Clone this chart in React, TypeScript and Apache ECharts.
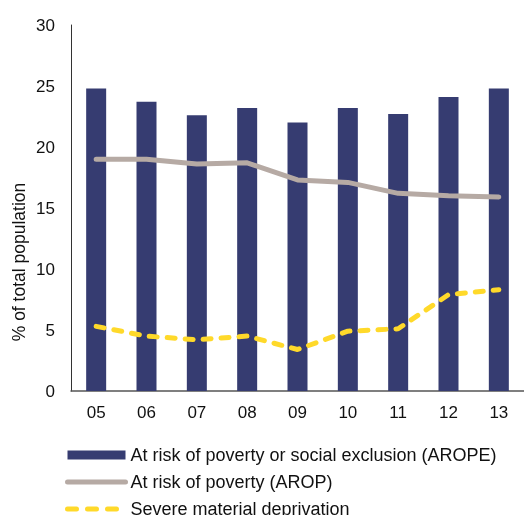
import React, { useEffect, useRef } from "react";
import * as echarts from "echarts";

const categories = ["05", "06", "07", "08", "09", "10", "11", "12", "13"];
const arope = [24.8, 23.7, 22.6, 23.2, 22.0, 23.2, 22.7, 24.1, 24.8];
const arop = [19.0, 19.0, 18.6, 18.7, 17.3, 17.1, 16.2, 16.0, 15.9];
const smd = [5.3, 4.5, 4.2, 4.5, 3.4, 4.9, 5.1, 7.9, 8.3];
const seriesNames = [
  "At risk of poverty or social exclusion (AROPE)",
  "At risk of poverty (AROP)",
  "Severe material deprivation",
];
const yAxisTitle = "% of total population";

const FONT = "'Liberation Sans', Arial, sans-serif";

export default function App() {
  const ref = useRef<HTMLDivElement>(null);
  useEffect(() => {
    if (!ref.current) return;
    const chart = echarts.init(ref.current, null, { renderer: "svg" });
    chart.setOption({
      animation: false,
      textStyle: { fontFamily: FONT },
      grid: { left: 71, right: 0, top: 25, bottom: 124, containLabel: false },
      xAxis: {
        type: "category",
        data: categories,
        boundaryGap: true,
        axisLine: { show: true, lineStyle: { color: "#555555", width: 1.5 } },
        axisTick: { show: false },
        axisLabel: { color: "#111111", fontSize: 17, margin: 13, fontFamily: FONT },
      },
      yAxis: {
        type: "value",
        min: 0,
        max: 30,
        interval: 5,
        axisLine: { show: true, lineStyle: { color: "#333333", width: 1 } },
        axisTick: { show: false },
        splitLine: { show: false },
        axisLabel: { color: "#111111", fontSize: 17, margin: 16, fontFamily: FONT },
      },
      legend: {
        orient: "vertical",
        left: 65,
        top: 446,
        padding: 0,
        height: 80,
        itemWidth: 58,
        itemHeight: 9,
        itemGap: 9,
        textStyle: { color: "#111111", fontSize: 18, fontFamily: FONT },
        data: [
          { name: seriesNames[0], icon: "rect" },
          {
            name: seriesNames[1],
            lineStyle: { width: 5, cap: "round" },
            itemStyle: { opacity: 0 },
          },
          {
            name: seriesNames[2],
            lineStyle: { width: 5, cap: "round", type: [9, 11], dashOffset: 0 },
            itemStyle: { opacity: 0 },
          },
        ],
      },
      graphic: [
        {
          type: "text",
          x: 19,
          y: 262,
          rotation: Math.PI / 2,
          style: {
            text: yAxisTitle,
            fontSize: 17.5,
            fontFamily: FONT,
            fill: "#111111",
            textAlign: "center",
            textVerticalAlign: "middle",
          },
        },
      ],
      series: [
        {
          name: seriesNames[0],
          type: "bar",
          data: arope,
          barWidth: 20,
          itemStyle: { color: "#363C71" },
        },
        {
          name: seriesNames[1],
          type: "line",
          data: arop,
          symbol: "none",
          lineStyle: { color: "#B6AAA4", width: 5, cap: "round", join: "round" },
          itemStyle: { color: "#B6AAA4" },
        },
        {
          name: seriesNames[2],
          type: "line",
          data: smd,
          symbol: "none",
          lineStyle: { color: "#FFD92A", width: 5, type: [8, 10], cap: "round", join: "round" },
          itemStyle: { color: "#FFD92A" },
        },
      ],
    });
    return () => chart.dispose();
  }, []);
  return (
    <div
      ref={ref}
      style={{ position: "fixed", left: 0, top: 0, width: 524, height: 515 }}
    />
  );
}
